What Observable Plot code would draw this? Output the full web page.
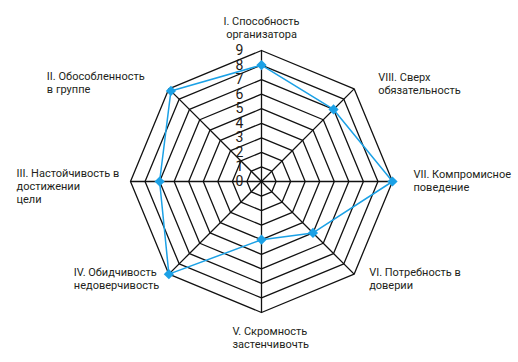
<!DOCTYPE html>
<html><head><meta charset="utf-8">
<script src="https://cdn.jsdelivr.net/npm/d3@7"></script>
<script src="https://cdn.jsdelivr.net/npm/@observablehq/plot@0.6"></script>
<style>body{margin:0;background:#fff}</style>
</head><body><div id="chart"></div>
<script>
// Axis categories (counter-clockwise from top)
const categories = [
  "I. Способность\nорганизатора",
  "II. Обособленность\nв группе",
  "III. Настойчивость в\nдостижении\nцели",
  "IV. Обидчивость\nнедоверчивость",
  "V. Скромность\nзастенчивочть",
  "VI. Потребность в\nдоверии",
  "VII. Компромисное\nповедение",
  "VIII. Сверх\nобязательность"
];
// Series values
const values = [8, 8.8, 7, 9, 4, 5, 9, 7];
// Scale levels / tick labels
const levels = [0, 1, 2, 3, 4, 5, 6, 7, 8, 9];
const tickLabels = ["0", "1", "2", "3", "4", "5", "6", "7", "8", "9"];

// Label layout (offsets from the outer vertex, pixels)
const labelLayout = [
  {dx: 0, dy: -35, anchor: "middle"},
  {dx: -122, dy: -18, anchor: "start"},
  {dx: -114, dy: -14, anchor: "start"},
  {dx: -95, dy: -8, anchor: "start"},
  {dx: -29, dy: 13, anchor: "start"},
  {dx: 15, dy: -8, anchor: "start"},
  {dx: 21, dy: -13, anchor: "start"},
  {dx: 24, dy: -17, anchor: "start"}
];

const maxV = d3.max(levels);
const n = categories.length;
const ang = i => i * 2 * Math.PI / n;
const px = (r, i) => -r * Math.sin(ang(i));
const py = (r, i) => r * Math.cos(ang(i));

const grid = levels.filter(l => l > 0).flatMap(l =>
  d3.range(n + 1).map(k => ({level: l, x: px(l, k % n), y: py(l, k % n)})));
const spokes = categories.map((c, i) => ({x: px(maxV, i), y: py(maxV, i)}));
const pts = values.map((v, i) => ({x: px(v, i), y: py(v, i)}));
const closed = pts.concat([pts[0]]);
const labels = categories.map((c, i) => ({text: c, x: px(maxV, i), y: py(maxV, i), ...labelLayout[i]}));

const font = "Roboto, 'Open Sans', sans-serif";
const chart = Plot.plot({
  width: 518, height: 362,
  marginLeft: 130, marginRight: 126, marginTop: 50, marginBottom: 50,
  x: {domain: [-maxV, maxV], axis: null},
  y: {domain: [-maxV, maxV], axis: null},
  style: {fontFamily: font, background: "#fff"},
  marks: [
    Plot.line(grid, {x: "x", y: "y", z: "level", stroke: "#111", strokeWidth: 1.3}),
    Plot.link(spokes, {x1: () => 0, y1: () => 0, x2: "x", y2: "y", stroke: "#111", strokeWidth: 1.3}),
    Plot.line(closed, {x: "x", y: "y", stroke: "#1ba1e6", strokeWidth: 1.5}),
    Plot.dot(pts, {x: "x", y: "y", symbol: "diamond2", r: 4.6, fill: "#1ba1e6", stroke: "none"}),
    Plot.text(levels, {x: () => 0, y: d => d, text: (d, i) => tickLabels[i], dx: -22, fontSize: 14, fill: "#1e1a16"}),
    ...labels.map(l => Plot.text([l], {x: "x", y: "y", text: "text", dx: l.dx, dy: l.dy,
      textAnchor: l.anchor, lineAnchor: "top", lineHeight: 1.2, fontSize: 11, fill: "#231f20"}))
  ]
});
document.getElementById("chart").appendChild(chart);
</script>
</body></html>
